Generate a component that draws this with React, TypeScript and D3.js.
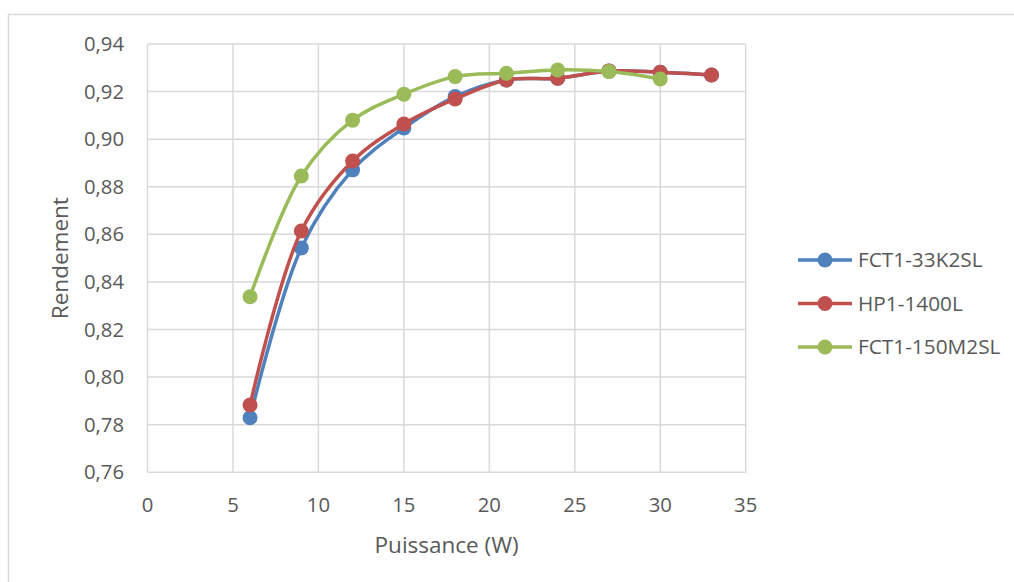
import React from "react";
import * as d3 from "d3";

const xValues = [6, 9, 12, 15, 18, 21, 24, 27, 30, 33];
const seriesNames = ["FCT1-33K2SL", "HP1-1400L", "FCT1-150M2SL"];
const blueValues = [0.7829, 0.8543, 0.8871, 0.9047, 0.9179, 0.9249, 0.9256, 0.9287, 0.9281, 0.927];
const redValues = [0.7883, 0.8614, 0.8908, 0.9064, 0.9169, 0.9249, 0.9256, 0.9287, 0.9281, 0.927];
const greenValues = [0.8338, 0.8845, 0.908, 0.9189, 0.9263, 0.9277, 0.9291, 0.9284, 0.9253];
const colors = ["#4F81BD", "#C0504D", "#9BBB59"];
const xTicks = [0, 5, 10, 15, 20, 25, 30, 35];
const yTicks = [0.76, 0.78, 0.8, 0.82, 0.84, 0.86, 0.88, 0.9, 0.92, 0.94];

export default function App() {
  const W = 1014, H = 582;
  const x = d3.scaleLinear().domain([0, 35]).range([147.5, 745.7]);
  const y = d3.scaleLinear().domain([0.76, 0.94]).range([472.3, 44]);
  const all = [blueValues, redValues, greenValues];
  const line = d3
    .line<[number, number]>()
    .x((d) => x(d[0]))
    .y((d) => y(d[1]))
    .curve(d3.curveCatmullRom.alpha(0.5));
  const font = "'Open Sans', sans-serif";
  const textColor = "#595959";
  const grid = "#d9d9d9";
  return (
    <svg width={W} height={H} style={{ position: "absolute", left: 0, top: 0 }}>
      <rect x={0} y={0} width={W} height={H} fill="#fff" />
      <rect x={8.5} y={14.5} width={W + 20} height={H + 20} fill="none" stroke={grid} strokeWidth={1.5} />
      {xTicks.map((t) => (
        <line key={"gx" + t} x1={x(t)} x2={x(t)} y1={y(0.94)} y2={y(0.76)} stroke={grid} strokeWidth={1.5} />
      ))}
      {yTicks.map((t) => (
        <line key={"gy" + t} x1={x(0)} x2={x(35)} y1={y(t)} y2={y(t)} stroke={grid} strokeWidth={1.5} />
      ))}
      {yTicks.map((t) => (
        <text key={"ty" + t} x={124} y={y(t)} dy="0.35em" textAnchor="end" fontFamily={font} fontSize={20.3} fill={textColor}>
          {t.toFixed(2).replace(".", ",")}
        </text>
      ))}
      {xTicks.map((t) => (
        <text key={"tx" + t} x={x(t)} y={505} dy="0.35em" textAnchor="middle" fontFamily={font} fontSize={20.3} fill={textColor}>
          {t}
        </text>
      ))}
      <text x={(x(0) + x(35)) / 2} y={545} dy="0.35em" textAnchor="middle" fontFamily={font} fontSize={22.5} fill={textColor}>
        Puissance (W)
      </text>
      <text
        transform={`translate(60,${(y(0.94) + y(0.76)) / 2}) rotate(-90)`}
        dy="0.35em"
        textAnchor="middle"
        fontFamily={font}
        fontSize={22.5}
        fill={textColor}
      >
        Rendement
      </text>
      {all.map((vals, i) => {
        const pts: [number, number][] = vals.map((v, j) => [xValues[j], v]);
        return (
          <g key={"s" + i}>
            <path d={line(pts) || ""} fill="none" stroke={colors[i]} strokeWidth={3.5} strokeLinejoin="round" />
            {pts.map((p, j) => (
              <circle key={j} cx={x(p[0])} cy={y(p[1])} r={7.5} fill={colors[i]} />
            ))}
          </g>
        );
      })}
      {seriesNames.map((n, i) => {
        const ly = 260 + i * 43.5;
        return (
          <g key={"l" + i}>
            <line x1={798} x2={852} y1={ly} y2={ly} stroke={colors[i]} strokeWidth={3.5} />
            <circle cx={825} cy={ly} r={7.5} fill={colors[i]} />
            <text x={858} y={ly} dy="0.35em" fontFamily={font} fontSize={20.8} fill={textColor}>
              {n}
            </text>
          </g>
        );
      })}
    </svg>
  );
}
